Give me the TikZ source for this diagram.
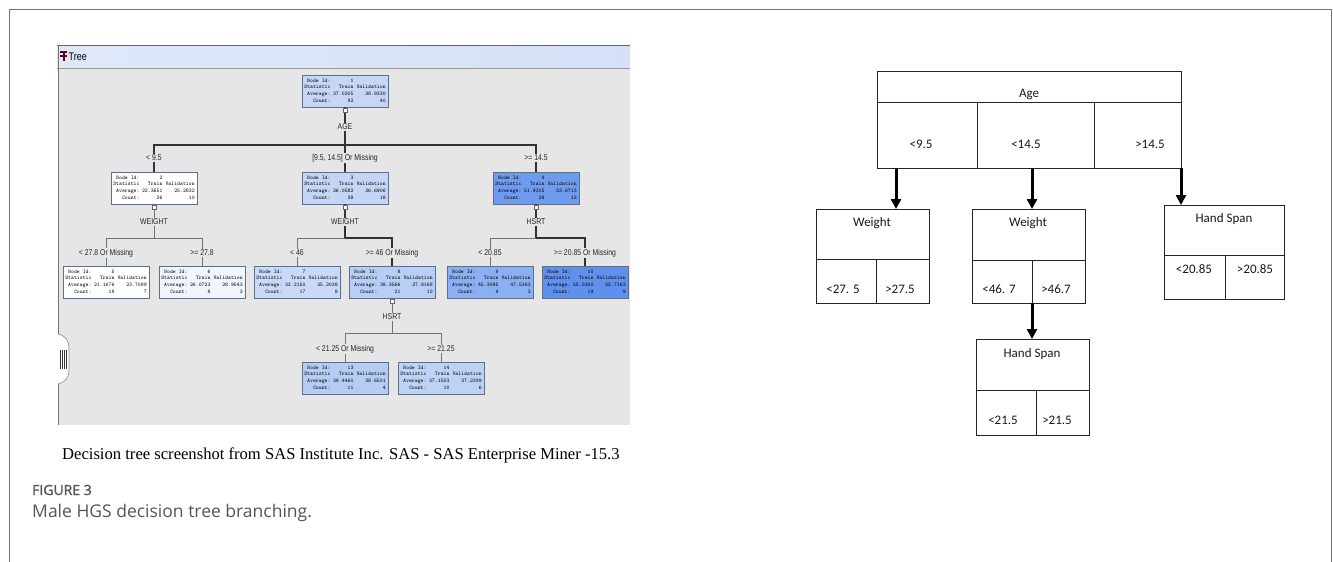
\documentclass[tikz,border=0pt]{standalone}
\usepackage{fontspec}
\setmainfont{Liberation Serif}
\newfontfamily\carlito{Carlito}
\newfontfamily\opensans{Open Sans}
\newfontfamily\opensansfb[FakeBold=1.3]{Open Sans}
\newfontfamily\narrowf[FakeStretch=0.82]{Liberation Sans}
\usetikzlibrary{arrows.meta,shadows,calc}
\definecolor{sasbg}{HTML}{E6E6E6}
\definecolor{cA}{HTML}{C6D6F5}
\definecolor{cB}{HTML}{FFFFFF}
\definecolor{cC}{HTML}{C4D5F6}
\definecolor{cD}{HTML}{6F9BEF}
\definecolor{cF}{HTML}{F0F5FD}
\definecolor{cG}{HTML}{C9D9F8}
\definecolor{cH}{HTML}{B7CEF6}
\definecolor{cI}{HTML}{8AAFF2}
\definecolor{cJ}{HTML}{6090EE}
\definecolor{cM}{HTML}{B5CCF5}
\definecolor{cN}{HTML}{BED2F6}
\definecolor{nodeborder}{HTML}{5F6F8A}
\definecolor{capgray}{HTML}{555555}
\newcommand\sastab[5]{\fontsize{5.5}{6.8}\selectfont\ttfamily\begin{tabular}{@{}r@{\hspace{2.5pt}}r@{\hspace{3pt}}r@{}}Node Id: & #1 & \\ Statistic & Train & Validation\\ Average: & #2 & #3\\ Count: & #4 & #5\end{tabular}}
\tikzset{
  sasn/.style={rectangle, draw=nodeborder, line width=0.5pt, minimum width=86pt, minimum height=32pt, inner sep=1pt, drop shadow={shadow xshift=1pt, shadow yshift=-1pt, opacity=0.35}},
  brl/.style={font=\narrowf\fontsize{8.4}{9}\selectfont, fill=sasbg, inner sep=0.6pt, text=black!85},
  thickbr/.style={draw=black!80, line width=1.4pt},
  thinbr/.style={draw=black!55, line width=0.7pt},
  sq/.style={rectangle, draw=black!60, fill=white, line width=0.4pt, minimum size=4.5pt, inner sep=0pt},
  rbox/.style={rectangle, draw=black!85, line width=0.9pt, inner sep=0pt},
  rline/.style={draw=black!85, line width=0.9pt},
  rtxt/.style={font=\carlito\fontsize{13}{15}\selectfont, text=black!90, inner sep=0pt},
  bigarrow/.style={line width=3pt, -{Triangle[length=10pt,width=10pt]}}
}
\begin{document}
\begin{tikzpicture}[x=1pt,y=-1pt]
\useasboundingbox (0,0) rectangle (1333,562);
\fill[white] (0,0) rectangle (1333,562);
% outer frame
\draw[black!55, line width=1pt] (9,562) -- (9,9) -- (1331,9) -- (1331,562);

% ---------------- screenshot ----------------
\fill[sasbg] (58,68) rectangle (630,425);
\shade[left color=cA!55!white, right color=cA!75!white] (57,45) rectangle (630,68);
\draw[black!60, line width=0.8pt] (57,45) -- (630,45);
\draw[black!40, line width=0.5pt] (57,68) -- (630,68);
\draw[black!55, line width=0.8pt] (58,45) -- (58,425);
\fill[red!45!black] (60,51) rectangle (67,53);
\fill[red!45!black] (62.5,53) rectangle (64.5,61);
\fill[violet!60!black] (60,55) rectangle (67,57);
\node[font=\narrowf\fontsize{11}{13}\selectfont, anchor=west, inner sep=0pt] (ttl) at (68.5,57) {Tree};

% side tab
\draw[fill=white, draw=black!45, line width=0.6pt] (58,334) .. controls (66,336) and (69,341) .. (69,348) -- (69,370) .. controls (69,377) and (66,382) .. (58,384);
\foreach \bx in {60.2,62.2,64.2,66.2} {\fill[black!80] (\bx,350) rectangle (\bx+1.1,369);}

% nodes
\node[sasn, fill=cA] (n1) at (345,91) {\sastab{1}{37.0205}{38.9330}{92}{40}};
\node[sasn, fill=cB] (n2) at (154,188) {\sastab{2}{22.3651}{25.2832}{26}{10}};
\node[sasn, fill=cC] (n3) at (345,188) {\sastab{3}{36.0582}{36.6906}{38}{18}};
\node[sasn, fill=cD] (n4) at (536,188) {\sastab{4}{51.9315}{53.6713}{28}{12}};
\node[sasn, fill=cB] (n5) at (106,282) {\sastab{5}{21.1676}{23.7099}{18}{7}};
\node[sasn, fill=cF] (n6) at (202,282) {\sastab{6}{26.0723}{28.9543}{8}{3}};
\node[sasn, fill=cG] (n7) at (297,282) {\sastab{7}{33.2150}{35.2038}{17}{8}};
\node[sasn, fill=cH] (n8) at (392,282) {\sastab{8}{38.3566}{37.8168}{21}{10}};
\node[sasn, fill=cI] (n9) at (490,282) {\sastab{9}{45.3095}{47.5363}{9}{3}};
\node[sasn, fill=cJ] (n10) at (585,282) {\sastab{10}{55.0300}{55.7163}{19}{9}};
\node[sasn, fill=cM] (n13) at (345,378) {\sastab{13}{39.4460}{38.6501}{11}{4}};
\node[sasn, fill=cN] (n14) at (441,378) {\sastab{14}{37.1503}{37.2399}{10}{6}};

% level 1 branches
\draw[thickbr] (n1.south) -- (345,145);
\draw[thickbr] (n2.north) |- (n4.north |- 0,145) -- (n4.north);
\draw[thickbr] (345,145) -- (n3.north);
\node[brl] (s1) at (345,127) {AGE};
\node[brl] (l2) at (154,158) {< 9.5};
\node[brl] (l3) at (345,158) {[9.5, 14.5] Or Missing};
\node[brl] (l4) at (536,158) {>= 14.5};

% level 2 branches
\draw[thinbr] (n2.south) -- (154,238);
\draw[thinbr] (n5.north) |- (n6.north |- 0,238) -- (n6.north);
\draw[thickbr] (n3.south) -- (345,238);
\draw[thinbr] (n7.north) |- (345,238);
\draw[thickbr] (345,238) -| (n8.north);
\draw[thickbr] (n4.south) -- (536,238);
\draw[thinbr] (n9.north) |- (536,238);
\draw[thickbr] (536,238) -| (n10.north);
\node[brl] (s2) at (154,222) {WEIGHT};
\node[brl] (s3) at (345,222) {WEIGHT};
\node[brl] (s4) at (536,222) {HSRT};
\node[brl] (l5) at (106,253) {< 27.8 Or Missing};
\node[brl] (l6) at (202,253) {>= 27.8};
\node[brl] (l7) at (297,253) {< 46};
\node[brl] (l8) at (392,253) {>= 46 Or Missing};
\node[brl] (l9) at (490,253) {< 20.85};
\node[brl] (l10) at (585,253) {>= 20.85 Or Missing};

% level 3 branches
\draw[thinbr] (n8.south) -- (392,333);
\draw[thinbr] (n13.north) |- (n14.north |- 0,333) -- (n14.north);
\node[brl] (s8) at (392,317) {HSRT};
\node[brl] (l13) at (345,349) {< 21.25 Or Missing};
\node[brl] (l14) at (441,349) {>= 21.25};

% collapse squares
\foreach \nn in {n1,n2,n3,n4,n8} {\node[sq, anchor=north] at ([yshift=-0.5pt]\nn.south) {};}

% caption of screenshot
\node[anchor=west, inner sep=0pt, font=\fontsize{16.6}{18}\selectfont] (cap) at (62,455) {Decision tree screenshot from SAS Institute Inc. SAS - SAS Enterprise Miner -15.3};

% ---------------- right diagram ----------------
\node[rbox, minimum width=304pt, minimum height=97pt, anchor=north west] (age) at (877,71) {};
\draw[rline] (877,102) -- (1181,102);
\draw[rline] (977,102) -- (977,168);
\draw[rline] (1094,102) -- (1094,168);
\node[rtxt] (tage) at (1029,94) {Age};
\node[rtxt] (ta1) at (921,144) {<9.5};
\node[rtxt] (ta2) at (1026,144) {<14.5};
\node[rtxt] (ta3) at (1150,144) {>14.5};

\node[rbox, minimum width=113pt, minimum height=94pt, anchor=north west] (w1) at (816,209) {};
\draw[rline] (816,259) -- (929,259);
\draw[rline] (876,259) -- (876,303);
\node[rtxt] (tw1) at (872,223) {Weight};
\node[rtxt] (tw1a) at (843,289) {<27. 5};
\node[rtxt] (tw1b) at (900,289) {>27.5};

\node[rbox, minimum width=113pt, minimum height=94pt, anchor=north west] (w2) at (972,209) {};
\draw[rline] (972,260) -- (1085,260);
\draw[rline] (1032,260) -- (1032,303);
\node[rtxt] (tw2) at (1028,223) {Weight};
\node[rtxt] (tw2a) at (999,289) {<46. 7};
\node[rtxt] (tw2b) at (1056,289) {>46.7};

\node[rbox, minimum width=120pt, minimum height=94pt, anchor=north west] (h1) at (1164,205) {};
\draw[rline] (1164,255) -- (1284,255);
\draw[rline] (1225,255) -- (1225,299);
\node[rtxt] (th1) at (1224,219) {Hand Span};
\node[rtxt] (th1a) at (1194,269) {<20.85};
\node[rtxt] (th1b) at (1255,269) {>20.85};

\node[rbox, minimum width=113pt, minimum height=96pt, anchor=north west] (h2) at (976,339) {};
\draw[rline] (976,390) -- (1089,390);
\draw[rline] (1036,390) -- (1036,435);
\node[rtxt] (th2) at (1032,354) {Hand Span};
\node[rtxt] (th2a) at (1003,420) {<21.5};
\node[rtxt] (th2b) at (1057,420) {>21.5};

\coordinate (a1) at (896,168);
\coordinate (a2) at (1032,168);
\coordinate (a3) at (1181,168);
\coordinate (a4) at (1032,303);
\draw[bigarrow] (a1) -- (a1 |- w1.north);
\draw[bigarrow] (a2) -- (a2 |- w2.north);
\draw[bigarrow] (a3) -- (a3 |- h1.north);
\draw[bigarrow] (a4) -- (a4 |- h2.north);

% ---------------- figure caption ----------------
\node[anchor=west, inner sep=0pt, font=\opensansfb\fontsize{14}{16}\selectfont, text=capgray] (fig) at (32,490) {FIGURE 3};
\node[anchor=west, inner sep=0pt, font=\opensans\fontsize{17.5}{20}\selectfont, text=capgray] (figcap) at (32,513) {Male HGS decision tree branching.};
\end{tikzpicture}
\end{document}
